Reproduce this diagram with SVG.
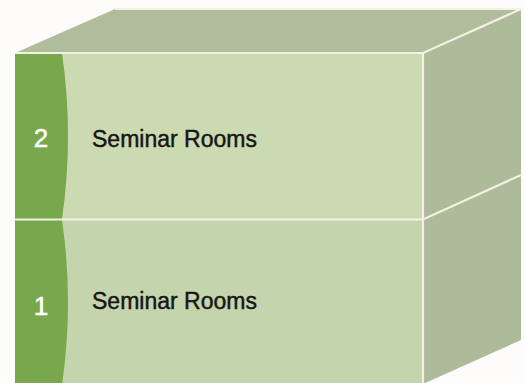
<svg xmlns="http://www.w3.org/2000/svg" width="524" height="383" viewBox="0 0 524 383">
<style>
.edge{fill:none;stroke:#f3f1e4;stroke-width:2.2}
.num{font-family:"Liberation Sans",Arial,sans-serif;font-size:26px;fill:#ffffff;stroke:#ffffff;stroke-width:0.5}
.lbl{font-family:"Liberation Sans",Arial,sans-serif;font-size:23px;fill:#161612;stroke:#161612;stroke-width:0.45}
</style>
<rect width="524" height="383" fill="#fdfcfa"/>
<g id="top-face"><polygon points="15,53 115,9 521,9 423,53" fill="#b0bd9d"/></g>
<g id="right-face"><polygon points="423,53 521,9 521,340 423,384" fill="#adbb9a"/></g>
<g id="floor2">
<rect x="15" y="53" width="408" height="166" fill="#cbdab0"/>
<path d="M15,53 L62,53 Q74,136 62,219 L15,219 Z" fill="#78a84b"/>
<text class="num" x="41" y="147" text-anchor="middle">2</text>
<text class="lbl" x="92" y="147">Seminar Rooms</text>
</g>
<g id="floor1">
<rect x="15" y="219" width="408" height="164" fill="#c4d4ad"/>
<path d="M15,220 L62,220 Q74,302 62,385 L15,385 Z" fill="#78a84b"/>
<text class="num" x="41" y="315" text-anchor="middle">1</text>
<text class="lbl" x="92" y="309">Seminar Rooms</text>
</g>
<g id="connectors">
<path class="edge" d="M15,53 L423,53 L521,9"/>
<path class="edge" d="M115,9 L521,9"/>
<path class="edge" d="M423,53 L423,384"/>
<path class="edge" d="M15,219.5 L423,219.5 L521,175"/>
</g>
</svg>
